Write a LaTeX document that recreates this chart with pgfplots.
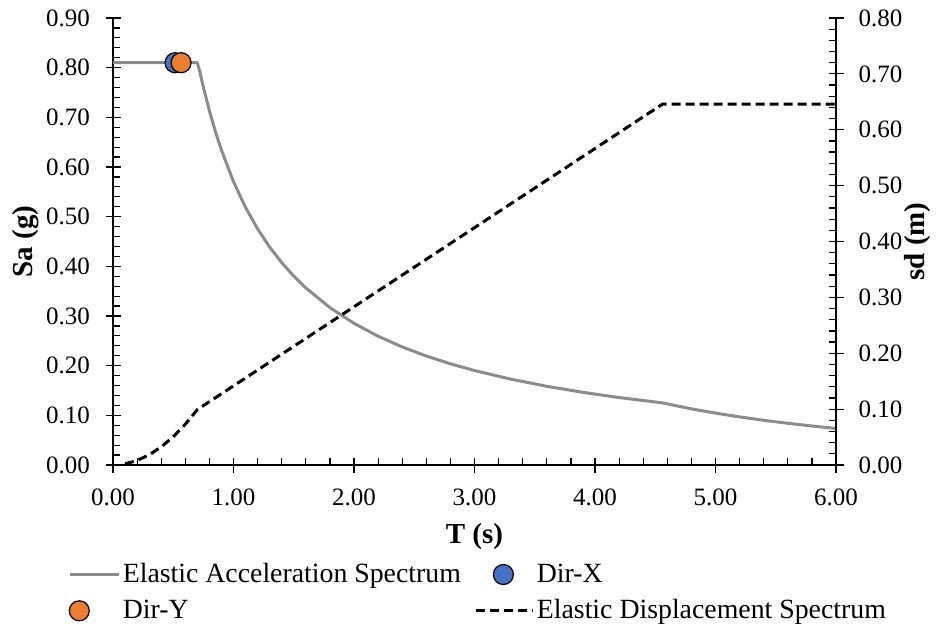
\documentclass[border=0pt]{standalone}
\usepackage{fontspec}
\setmainfont{Liberation Serif}
\usepackage{pgfplots}
\pgfplotsset{compat=1.18}
\definecolor{sagray}{RGB}{140,140,140}
\definecolor{dirx}{RGB}{68,114,196}
\definecolor{diry}{RGB}{237,125,49}
\pgfplotsset{
  legline/.style={legend image code/.code={\draw[##1] (0pt,0pt)--(#1,0pt);}},
  legmark/.style={legend image code/.code={\draw[##1] plot coordinates {(#1,0pt)};}},
}
\begin{document}
\begin{tikzpicture}
\pgfplotsset{
  common/.style={
    scale only axis, width=361.5pt, height=223.5pt,
    at={(0pt,0pt)}, anchor=south west,
    xmin=0, xmax=6,
    tick align=inside,
    major tick length=7.5pt, minor tick length=3.5pt,
    tick style={black, line width=0.6pt},
    axis line style={black, line width=0.6pt},
    ticklabel style={font=\fontsize{12.5}{15}\selectfont},
    label style={font=\bfseries\fontsize{14.5}{17}\selectfont},
    /pgf/number format/.cd, fixed, fixed zerofill, precision=2, assume math mode=true,
  }
}
\begin{axis}[common,
  axis x line*=bottom, axis y line*=left,
  ymin=0, ymax=0.9,
  xtick={0,1,2,3,4,5,6},
  ytick={0,0.1,0.2,0.3,0.4,0.5,0.6,0.7,0.8,0.9},
  minor x tick num=4, minor y tick num=4,
  major x tick style={yshift=-3.75pt},
  major y tick style={xshift=-3.75pt},
  yticklabel style={xshift=-8pt},
  xticklabel style={yshift=-8.5pt},
  xlabel={T (s)}, ylabel={Sa (g)},
  xlabel style={at={(axis description cs:0.5,-0.16)}, anchor=center},
  ylabel style={at={(axis description cs:-0.1203,0.5)}, anchor=center},
  legend columns=2,
  legend cell align=left,
  legend style={draw=none, fill=none, at={(axis description cs:-0.07,-0.2013)}, anchor=north west,
    font=\fontsize{13.9}{16}\selectfont,
    nodes={inner xsep=1pt},
    /tikz/every even column/.append style={column sep=6pt},
    row sep=3pt},
]
\addplot[sagray, line width=1.5pt, line join=round, legline=24.5pt]
  coordinates {
  (0,0.81) (0.70,0.81) (0.72,0.7924) (0.75,0.7607) (0.80,0.7131) (0.85,0.6712)
  (0.90,0.6339) (1.00,0.5705) (1.10,0.5186) (1.20,0.4754) (1.30,0.4388)
  (1.40,0.4075) (1.50,0.3803) (1.60,0.3566) (1.80,0.3169) (2.00,0.2853)
  (2.20,0.2593) (2.40,0.2377) (2.60,0.2194) (2.80,0.2038) (3.00,0.1902)
  (3.30,0.1729) (3.60,0.1585) (3.90,0.1463) (4.20,0.1358) (4.56,0.1251)
  (4.80,0.1130) (5.00,0.1045) (5.20,0.0968) (5.40,0.0900) (5.60,0.0840)
  (5.80,0.0785) (6.00,0.0737)
  };
\addlegendentry{Elastic Acceleration Spectrum}
\addplot[only marks, mark=*, mark size=5pt, mark options={fill=dirx, draw=black, line width=0.6pt}, legmark=13.5pt]
  coordinates {(0.515,0.81)};
\addlegendentry{Dir-X}
\addplot[only marks, mark=*, mark size=5pt, mark options={fill=diry, draw=black, line width=0.6pt}, legmark=4.5pt]
  coordinates {(0.565,0.81)};
\addlegendentry{Dir-Y}
\addlegendimage{black, line width=1.5pt, dash pattern=on 4.5pt off 2.5pt, legline=28.5pt}
\addlegendentry{Elastic Displacement Spectrum}
\end{axis}
\begin{axis}[common,
  axis x line=none, axis y line*=right,
  ymin=0, ymax=0.8,
  ytick={0,0.1,0.2,0.3,0.4,0.5,0.6,0.7,0.8},
  minor y tick num=4,
  major y tick style={xshift=3.75pt},
  yticklabel style={xshift=7.8pt},
  ylabel={sd (m)},
  ylabel style={at={(axis description cs:1.1134,0.5)}, anchor=center},
]
\addplot[black, line width=1.5pt, dash pattern=on 4.5pt off 2.5pt]
  coordinates {
  (0.10,0.0020) (0.20,0.0081) (0.30,0.0182) (0.40,0.0324) (0.50,0.0506)
  (0.60,0.0729) (0.70,0.0992) (1.00,0.1416) (2.00,0.2832) (3.00,0.4248)
  (4.00,0.5664) (4.56,0.6458) (6.00,0.6458)
  };
\end{axis}
\pgfresetboundingbox
\path (-56.5pt,-80.5pt) rectangle (413.5pt,232.5pt);
\end{tikzpicture}
\end{document}
